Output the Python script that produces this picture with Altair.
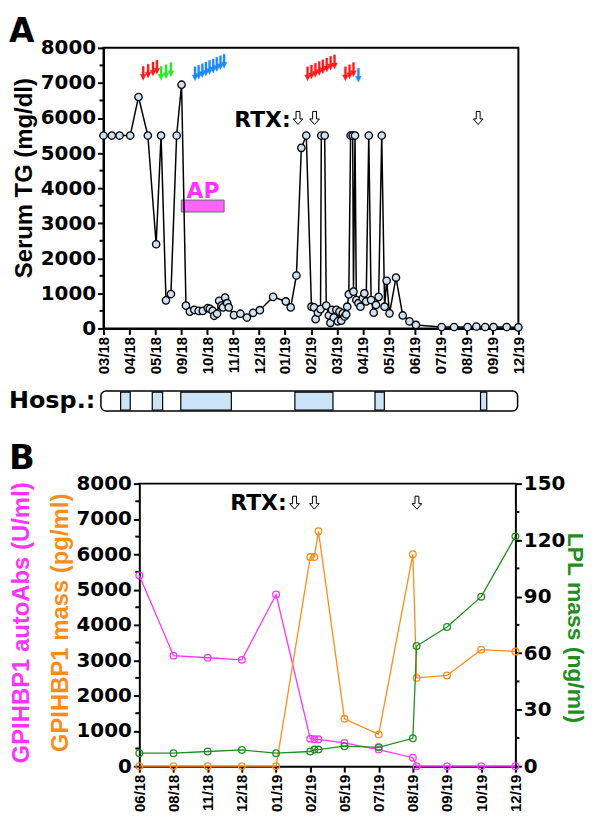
import json
import altair as alt
import pandas as pd

# ---------------- Panel A data ----------------
a_labels = ["03/18", "04/18", "05/18", "09/18", "10/18", "11/18", "12/18", "01/19", "02/19",
            "03/19", "04/19", "05/19", "06/19", "07/19", "08/19", "09/19", "12/19"]
tg_pos = [0.00, 0.32, 0.62, 1.03, 1.35, 1.71, 2.03, 2.22, 2.41, 2.60, 2.82, 3.01, 3.18, 3.33, 3.50,
          3.67, 3.83, 4.02, 4.10, 4.21, 4.27, 4.38, 4.46, 4.55, 4.61, 4.69, 4.77, 4.83, 5.03, 5.28,
          5.53, 5.77, 6.03, 6.54, 7.03, 7.22, 7.44, 7.63, 7.82, 8.02, 8.12, 8.18, 8.27, 8.37, 8.40,
          8.53, 8.59, 8.69, 8.75, 8.81, 8.88, 8.98, 9.04, 9.10, 9.17, 9.23, 9.30, 9.36, 9.40, 9.46,
          9.53, 9.61, 9.64, 9.70, 9.75, 9.83, 9.91, 10.00, 10.06, 10.13, 10.23, 10.32, 10.42, 10.51,
          10.61, 10.73, 10.84, 10.92, 11.03, 11.28, 11.54, 11.80, 12.05, 13.04, 13.52, 14.04, 14.38,
          14.72, 15.04, 15.55, 16.00]
tg_val = [5500, 5500, 5500, 5500, 6600, 5500, 2400, 5500, 800, 980, 5500, 6950, 650, 480, 530,
          500, 500, 580, 560, 500, 360, 420, 790, 650, 600, 880, 720, 600, 380, 420,
          310, 445, 520, 900, 770, 600, 1510, 5150, 5500, 620, 600, 265, 450, 550, 5500,
          5500, 650, 370, 160, 530, 310, 530, 200, 480, 220, 430, 340, 400, 620, 970,
          5500, 5500, 1050, 5500, 810, 720, 620, 860, 1000, 770, 5500, 810, 450, 670,
          900, 5500, 620, 1360, 430, 1450, 370, 200, 100, 40, 40, 40, 55,
          40, 40, 40, 30]

# treatment arrows (position on the date axis, height in mg/dl)
red1_pos = [1.53, 1.72, 1.91, 2.06]
red1_val = [7275, 7335, 7395, 7450]
green_pos = [2.22, 2.41, 2.60]
green_val = [7275, 7320, 7380]
blue1_pos = [3.53, 3.67, 3.81, 3.95, 4.09, 4.23, 4.37, 4.51, 4.65]
blue1_val = [7260, 7305, 7350, 7395, 7440, 7485, 7530, 7575, 7620]
red2_pos = [7.87, 8.02, 8.17, 8.32, 8.46, 8.61, 8.76, 8.91]
red2_val = [7260, 7310, 7360, 7410, 7460, 7510, 7560, 7600]
red3_pos = [9.33, 9.49, 9.64]
red3_val = [7260, 7320, 7380]
blue2_pos = [9.83]
blue2_val = [7220]

rtx_a_pos = [7.50, 8.14, 14.45]
rtx_a_val = 6000
ap_span = [3.0, 4.65]
ap_range = [3320, 3660]

hosp_span = [-0.1, 15.97]
hosp_start = [0.66, 1.88, 2.98, 7.38, 10.47, 14.54]
hosp_end = [1.03, 2.28, 4.93, 8.85, 10.83, 14.78]

# ---------------- Panel B data ----------------
b_labels = ["06/18", "08/18", "11/18", "12/18", "01/19", "02/19", "05/19", "07/19",
            "08/19", "09/19", "10/19", "12/19"]
b_pos = [0, 1, 2, 3, 4, 5.0, 5.12, 5.24, 6, 7, 8, 8.11, 9, 10, 11]
autoabs = [5400, 3130, 3070, 3010, 4860, 780, 760, 760, 660, 470, 240, 0, 0, 0, 0]
gpi_mass = [0, 0, 0, 0, 0, 5920, 5920, 6650, 1340, 900, 6000, 2500, 2570, 3300, 3250]
lpl_mass = [6.9, 6.9, 7.8, 8.6, 6.9, 7.8, 8.8, 8.8, 10.6, 10.0, 14.8, 63.8, 73.9, 90, 122]
rtx_b_pos = [4.54, 5.12, 8.12]
rtx_b_val = 7460

# ---------------- styling ----------------
HF = "DejaVu Sans"
VF = "Liberation Sans"
MAG = "#ff33ff"
ORA = "#ff8c1a"
GRN = "#1f8f1f"
ARROW = "M-0.15,-1L0.15,-1L0.15,0.15L0.42,0.15L0,1L-0.42,0.15L-0.15,0.15Z"
HOLLOW = "M-0.3,-1L0.3,-1L0.3,0.15L0.75,0.15L0,1L-0.75,0.15L-0.3,0.15Z"

AW, AH = 417, 282
D = 36            # panel B plot starts this much to the right of panel A's
BW, BH = 378, 284


def lab_expr(labels):
    return json.dumps(labels) + "[datum.value]"


def x_enc(n, labels, rng=None):
    sc = dict(domain=[0, n], nice=False, zero=False)
    if rng is not None:
        sc["range"] = rng
    return alt.X("pos:Q", scale=alt.Scale(**sc),
                 axis=alt.Axis(values=list(range(n + 1)), labelExpr=lab_expr(labels),
                               labelAngle=-90, labelFont=VF, labelFontSize=15,
                               labelFontWeight="bold", labelColor="black", labelPadding=2,
                               tickSize=6, tickWidth=2, tickColor="black", domainColor="black",
                               domainWidth=2, grid=False, title=None, labelOverlap=False,
                               labelFlush=False))


def y_enc(field, top, step, orient="left", offset=0):
    return alt.Y(field, scale=alt.Scale(domain=[0, top], nice=False, zero=True),
                 axis=alt.Axis(orient=orient, values=list(range(0, top + 1, step)), format="d",
                               offset=offset,
                               labelFont=HF, labelFontSize=20, labelFontWeight="bold",
                               labelColor="black", labelPadding=2, tickSize=6, tickWidth=2,
                               tickColor="black", domainColor="black", domainWidth=2, grid=False,
                               title=None, labelOverlap=False, labelFlush=False))


def text_layer(txt, x, y, size, color="black", font=HF, angle=0, align="left", baseline="top"):
    return alt.Chart(pd.DataFrame({"t": [txt]})).mark_text(
        font=font, fontSize=size, fontWeight="bold", color=color, angle=angle,
        align=align, baseline=baseline).encode(text="t:N", x=alt.value(x), y=alt.value(y))


# ---------------- Panel A ----------------
xA = x_enc(16, a_labels)
yA = y_enc("val:Q", 8000, 1000)

tg = pd.DataFrame({"pos": tg_pos, "val": tg_val, "i": list(range(len(tg_pos)))})
arrows = pd.DataFrame({
    "pos": red1_pos + green_pos + blue1_pos + red2_pos + red3_pos + blue2_pos,
    "val": red1_val + green_val + blue1_val + red2_val + red3_val + blue2_val,
    "col": (["#ff1a1a"] * len(red1_pos) + ["#22ee22"] * len(green_pos) + ["#1e88ff"] * len(blue1_pos)
            + ["#ff1a1a"] * len(red2_pos) + ["#ff1a1a"] * len(red3_pos) + ["#1e88ff"] * len(blue2_pos)),
})
minorA = pd.DataFrame({"val": list(range(500, 8000, 1000))})

a_line = alt.Chart(tg).mark_line(color="black", strokeWidth=1.5).encode(x=xA, y=yA, order="i:Q")
a_pts = alt.Chart(tg).mark_circle(size=55, fill="#cfe2f3", stroke="black", strokeWidth=1.3,
                                  opacity=1).encode(x=xA, y=yA)
a_minor = alt.Chart(minorA).mark_rule(color="black", strokeWidth=2).encode(
    y=yA, x=alt.value(-4), x2=alt.value(0))
a_ap = alt.Chart(pd.DataFrame({"pos": [ap_span[0]], "end": [ap_span[1]],
                               "val": [ap_range[0]], "val2": [ap_range[1]]})).mark_rect(
    fill="#ff66ff", stroke="#666666", strokeWidth=1).encode(x=xA, x2="end:Q", y=yA, y2="val2:Q")
a_ap_txt = alt.Chart(pd.DataFrame({"pos": [3.84], "val": [3720], "t": ["AP"]})).mark_text(
    font=HF, fontSize=22, fontWeight="bold", color=MAG, baseline="alphabetic").encode(
    x=xA, y=yA, text="t:N")
a_rtx_txt = alt.Chart(pd.DataFrame({"pos": [7.22], "val": [5950], "t": ["RTX:"]})).mark_text(
    font=HF, fontSize=22, fontWeight="bold", color="black", align="right", baseline="middle").encode(
    x=xA, y=yA, text="t:N")
a_rtx_arr = alt.Chart(pd.DataFrame({"pos": rtx_a_pos, "val": [rtx_a_val] * len(rtx_a_pos)})).mark_point(
    shape=HOLLOW, size=170, filled=True, color="white", stroke="black", strokeWidth=1, opacity=1).encode(
    x=xA, y=yA)
a_arrows = alt.Chart(arrows).mark_point(shape=ARROW, size=200, filled=True, opacity=1,
                                        strokeWidth=0.3).encode(
    x=xA, y=yA, color=alt.Color("col:N", scale=None), stroke=alt.Color("col:N", scale=None))

hosp_outer = alt.Chart(pd.DataFrame({"pos": [hosp_span[0]], "end": [hosp_span[1]]})).mark_rect(
    fill="white", stroke="black", strokeWidth=1.5, cornerRadius=5).encode(
    x=xA, x2="end:Q", y=alt.value(AH + 63), y2=alt.value(AH + 83))
hosp_seg = alt.Chart(pd.DataFrame({"pos": hosp_start, "end": hosp_end})).mark_rect(
    fill="#cce4f8", stroke="black", strokeWidth=1.2).encode(
    x=xA, x2="end:Q", y=alt.value(AH + 64), y2=alt.value(AH + 82))
hosp_txt = text_layer("Hosp.:", -95, AH + 73, 24, baseline="middle")

a_label = text_layer("A", -95, -32, 33)
a_title = text_layer("Serum TG (mg/dl)", -79, 131, 24, font=VF, angle=270, align="center",
                     baseline="middle")

panelA = alt.layer(a_minor, a_ap, a_line, a_pts, a_ap_txt, a_rtx_txt, a_rtx_arr, a_arrows,
                   hosp_outer, hosp_seg, hosp_txt, a_label, a_title).properties(width=AW, height=AH)

# ---------------- Panel B ----------------
VW = D + BW
xB = x_enc(11, b_labels, rng=[D, VW])
yL = y_enc("val:Q", 8000, 1000, offset=-D)
yR = y_enc("lpl:Q", 150, 30, orient="right")

dfB = pd.DataFrame({"pos": b_pos, "abs": autoabs, "mass": gpi_mass, "lpl": lpl_mass})
dfAbs = dfB.rename(columns={"abs": "val"})[["pos", "val"]]
dfMass = dfB.rename(columns={"mass": "val"})[["pos", "val"]]
dfLpl = dfB[["pos", "lpl"]]


def series(df, y, color):
    line = alt.Chart(df).mark_line(color=color, strokeWidth=1.3).encode(x=xB, y=y)
    pts = alt.Chart(df).mark_point(color=color, size=45, strokeWidth=1.3, filled=False,
                                   opacity=1).encode(x=xB, y=y)
    return line, pts


m_line, m_pts = series(dfAbs, yL, MAG)
o_line, o_pts = series(dfMass, yL, ORA)
g_line, g_pts = series(dfLpl, yR, GRN)

b_top = alt.Chart(pd.DataFrame({"t": [0]})).mark_rule(color="black", strokeWidth=2).encode(
    x=alt.value(D - 1), x2=alt.value(VW + 1), y=alt.value(0))
b_minorL = alt.Chart(pd.DataFrame({"val": list(range(500, 8000, 1000))})).mark_rule(
    color="black", strokeWidth=2).encode(y=yL, x=alt.value(D - 4), x2=alt.value(D))
b_minorR = alt.Chart(pd.DataFrame({"lpl": list(range(15, 150, 30))})).mark_rule(
    color="black", strokeWidth=2).encode(y=yR, x=alt.value(VW), x2=alt.value(VW + 4))
b_rtx_txt = alt.Chart(pd.DataFrame({"pos": [4.31], "val": [7440], "t": ["RTX:"]})).mark_text(
    font=HF, fontSize=22, fontWeight="bold", color="black", align="right", baseline="middle").encode(
    x=xB, y=yL, text="t:N")
b_rtx_arr = alt.Chart(pd.DataFrame({"pos": rtx_b_pos, "val": [rtx_b_val] * len(rtx_b_pos)})).mark_point(
    shape=HOLLOW, size=170, filled=True, color="white", stroke="black", strokeWidth=1, opacity=1).encode(
    x=xB, y=yL)
b_label = text_layer("B", -95, -42, 34)
b_t1 = text_layer("GPIHBP1 autoAbs (U/ml)", -82, 140, 24, color=MAG, font=VF, angle=270,
                  align="center", baseline="middle")
b_t2 = text_layer("GPIHBP1 mass (pg/ml)", -43, 140, 24, color=ORA, font=VF, angle=270,
                  align="center", baseline="middle")
b_t3 = text_layer("LPL mass (ng/ml)", VW + 60, 145, 23, color=GRN, font=VF, angle=90,
                  align="center", baseline="middle")

left = alt.layer(b_top, b_minorL, m_line, o_line, m_pts, o_pts, b_rtx_txt, b_rtx_arr, b_label,
                 b_t1, b_t2)
right = alt.layer(b_minorR, g_line, g_pts, b_t3)
panelB = alt.layer(left, right).resolve_scale(y="independent").properties(
    width=VW, height=BH, view=alt.ViewBackground(stroke="transparent"))

chart = alt.vconcat(panelA, panelB, spacing=27).properties(
    padding={"top": 5, "right": 5, "left": 0, "bottom": 0}).configure_view(
    stroke="black", strokeWidth=2)

chart.save("out.html", embed_options={"renderer": "svg", "actions": False})
